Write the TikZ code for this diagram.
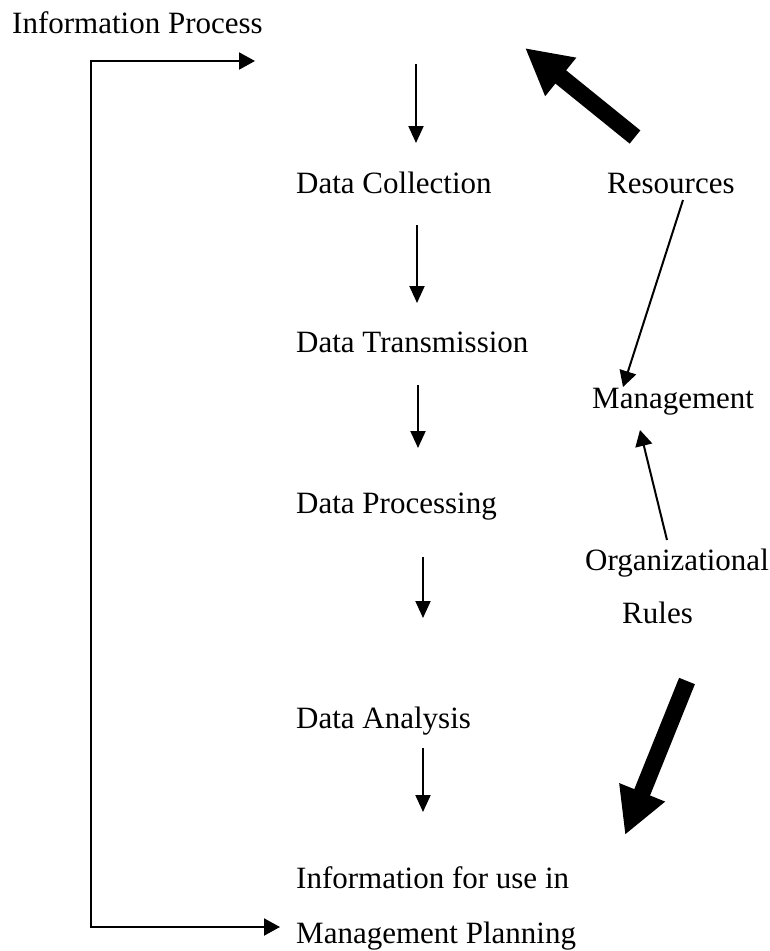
\documentclass[tikz,border=0pt]{standalone}
\usepackage{fontspec}
\setmainfont{Liberation Serif}
\usetikzlibrary{arrows.meta}
\begin{document}
\begin{tikzpicture}[x=1pt,y=-1pt,
  lbl/.style={anchor=base west, inner sep=0pt, font=\fontsize{31}{36}\selectfont},
  flow/.style={line width=2pt, -{Triangle[length=17pt,width=15pt]}},
  link/.style={line width=2pt, -{Triangle[length=16pt,width=17pt]}},
  loopback/.style={line width=2pt, {Triangle[length=16pt,width=17pt]}-{Triangle[length=16pt,width=17pt]}},
  bigarrow/.style={line width=17pt, -{Triangle[length=46pt,width=46pt]}}]
\useasboundingbox (0,0) rectangle (770,951);

% text labels
\node[lbl] (ip)  at (12,33)   {Information Process};
\node[lbl] (dc)  at (296,193) {Data Collection};
\node[lbl] (dt)  at (296,352) {Data Transmission};
\node[lbl] (dp)  at (296,513) {Data Processing};
\node[lbl] (da)  at (296,728) {Data Analysis};
\node[lbl] (iu)  at (296,888) {Information for use in};
\node[lbl] (mp)  at (296,943) {Management Planning};
\node[lbl] (res) at (607,193) {Resources};
\node[lbl] (mg)  at (592,408) {Management};
\node[lbl] (org) at (585,570) {Organizational};
\node[lbl] (rul) at (622,623) {Rules};

% end points of the free-standing arrows
\coordinate (f0s) at (416,64);  \coordinate (f0e) at (416,143);
\coordinate (f1s) at (417,225); \coordinate (f1e) at (417,303);
\coordinate (f2s) at (418,385); \coordinate (f2e) at (418,448);
\coordinate (f3s) at (423,557); \coordinate (f3e) at (423,618);
\coordinate (f4s) at (423,748); \coordinate (f4e) at (423,812);
\coordinate (topin)  at (255,61);
\coordinate (topcor) at (91,61);
\coordinate (botcor) at (91,927);
\coordinate (botin)  at (280,927);
\coordinate (rs) at (683,200); \coordinate (re) at (623,387);
\coordinate (os) at (667,540); \coordinate (oe) at (640,430);
\coordinate (b1s) at (635,137); \coordinate (b1e) at (525,48);
\coordinate (b2s) at (687,681); \coordinate (b2e) at (625,835);

% process chain
\draw[flow] (f0s) -- (f0e);
\draw[flow] (f1s) -- (f1e);
\draw[flow] (f2s) -- (f2e);
\draw[flow] (f3s) -- (f3e);
\draw[flow] (f4s) -- (f4e);

% feedback bracket on the left
\draw[loopback] (topin) -- (topcor) -- (botcor) -- (botin);

% management inputs
\draw[link] (rs) -- (re);
\draw[link] (os) -- (oe);

% heavy arrows
\draw[bigarrow] (b1s) -- (b1e);
\draw[bigarrow] (b2s) -- (b2e);
\end{tikzpicture}
\end{document}
